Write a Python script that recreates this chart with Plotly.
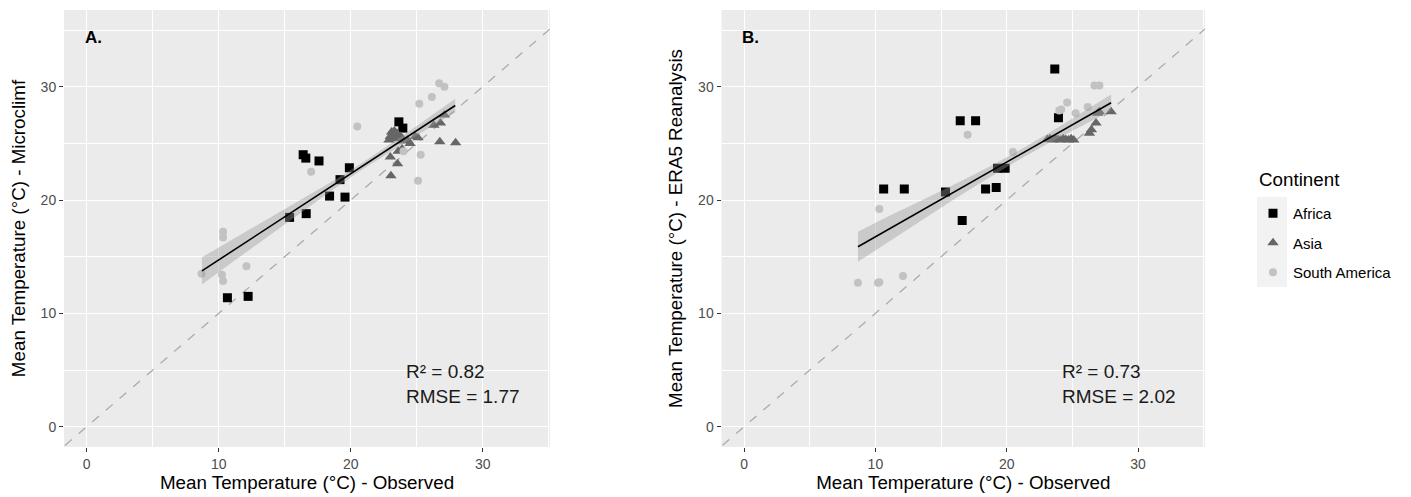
import plotly.graph_objects as go

# ---------------- data ----------------
continents = ["Africa", "Asia", "South America"]

# Panel A: Observed vs Microclimf
A_africa_obs  = [10.66, 12.23, 15.37, 16.4, 16.6, 16.63, 17.6, 18.4, 19.19, 19.57, 19.9, 23.65, 23.95]
A_africa_pred = [11.38, 11.5, 18.47, 24.0, 23.7, 18.8, 23.45, 20.35, 21.8, 20.26, 22.85, 26.9, 26.35]

A_asia_obs  = [22.9, 23.0, 23.1, 23.25, 23.3, 23.45, 23.5, 23.6, 23.8, 24.0, 24.3, 24.5, 24.9, 25.1,
               23.0, 23.6, 23.9, 23.55, 23.05, 26.3, 26.8, 27.1, 26.75, 27.95]
A_asia_pred = [25.3, 25.6, 26.0, 25.5, 26.1, 25.7, 25.9, 25.4, 25.6, 25.2, 25.3, 25.0, 25.6, 25.5,
               23.8, 24.3, 24.5, 23.2, 22.15, 26.6, 26.8, 27.5, 25.15, 25.06]

A_sam_obs  = [8.7, 10.25, 10.33, 10.33, 10.33, 12.1, 17.0, 20.5, 24.0, 25.1, 25.3, 25.2, 26.15, 26.7, 27.1]
A_sam_pred = [13.5, 13.4, 12.85, 16.7, 17.2, 14.15, 22.5, 26.5, 24.3, 21.7, 24.0, 28.5, 29.1, 30.3, 30.0]

A_fit_x  = [8.73, 11, 13, 15, 17, 19, 21, 23, 25, 27.92]
A_fit_y  = [13.75, 15.48, 17.0, 18.52, 20.04, 21.56, 23.08, 24.6, 26.12, 28.34]
A_band_lo = [12.55, 14.48, 16.17, 17.87, 19.54, 21.19, 22.78, 24.27, 25.70, 27.74]
A_band_hi = [14.95, 16.48, 17.83, 19.17, 20.54, 21.93, 23.38, 24.93, 26.54, 28.94]
A_stats = "R² = 0.82<br>RMSE = 1.77"

# Panel B: Observed vs ERA5 Reanalysis
B_africa_obs  = [10.63, 12.2, 15.34, 16.46, 16.61, 17.63, 18.39, 19.2, 19.3, 19.88, 23.66, 23.94]
B_africa_pred = [20.97, 20.97, 20.7, 27.0, 18.2, 27.0, 20.97, 21.1, 22.8, 22.8, 31.56, 27.26]

B_asia_obs  = [23.1, 23.3, 23.5, 23.7, 23.9, 24.1, 24.3, 24.5, 24.7, 24.9, 25.1,
               26.3, 26.45, 26.8, 26.93, 27.05, 27.95]
B_asia_pred = [25.35, 25.4, 25.3, 25.4, 25.35, 25.3, 25.4, 25.35, 25.3, 25.4, 25.3,
               25.9, 26.2, 26.8, 27.65, 27.8, 27.8]

B_sam_obs  = [8.67, 10.2, 10.3, 10.3, 12.1, 17.02, 20.47, 24.0, 24.15, 24.6, 25.25, 26.17, 26.68, 27.06]
B_sam_pred = [12.7, 12.7, 12.75, 19.2, 13.3, 25.76, 24.25, 27.9, 28.0, 28.6, 27.65, 28.2, 30.1, 30.1]

B_fit_x  = [8.67, 11, 13, 15, 17, 19, 21, 23, 25, 27.95]
B_fit_y  = [15.88, 17.42, 18.74, 20.06, 21.37, 22.69, 24.01, 25.33, 26.65, 28.59]
B_band_lo = [14.55, 16.27, 17.81, 19.33, 20.80, 22.24, 23.61, 24.90, 26.13, 27.87]
B_band_hi = [17.2, 18.57, 19.67, 20.79, 21.94, 23.14, 24.41, 25.76, 27.17, 29.31]
B_stats = "R² = 0.73<br>RMSE = 2.02"

tick_vals = [0, 10, 20, 30]
tick_text = ["0", "10", "20", "30"]
diag_slope, diag_intercept = 1.0, 0.0
x_range = [-1.72, 35.1]
y_range = [-1.79, 36.77]

# ---------------- styling ----------------
FONT = "Liberation Sans, Arial, sans-serif"
styles = {
    "Africa": dict(symbol="square", color="#000000", size=9),
    "Asia": dict(symbol="triangle-up", color="#666666", size=10),
    "South America": dict(symbol="circle", color="#C2C2C2", size=8),
}

fig = go.Figure()

panels = [
    ("x", "y", [A_africa_obs, A_asia_obs, A_sam_obs], [A_africa_pred, A_asia_pred, A_sam_pred],
     A_fit_x, A_fit_y, A_band_lo, A_band_hi, True),
    ("x2", "y2", [B_africa_obs, B_asia_obs, B_sam_obs], [B_africa_pred, B_asia_pred, B_sam_pred],
     B_fit_x, B_fit_y, B_band_lo, B_band_hi, False),
]

for xa, ya, obs_list, pred_list, fx, fy, lo, hi, show in panels:
    # 1:1 dashed reference line across the whole axis range
    dx = [x_range[0] - 2, x_range[1] + 2]
    fig.add_trace(go.Scatter(
        x=dx, y=[diag_intercept + diag_slope * v for v in dx], mode="lines",
        line=dict(color="#ABABAB", width=1.3, dash="dash"),
        xaxis=xa, yaxis=ya, showlegend=False, hoverinfo="skip"))
    for name, ox, oy in zip(continents, obs_list, pred_list):
        st = styles[name]
        fig.add_trace(go.Scatter(
            x=ox, y=oy, mode="markers", name=name, legendgroup=name,
            marker=dict(symbol=st["symbol"], color=st["color"], size=st["size"], line=dict(width=0)),
            xaxis=xa, yaxis=ya, showlegend=show))
    # confidence ribbon (drawn over points, like geom_smooth)
    fig.add_trace(go.Scatter(
        x=fx + fx[::-1], y=hi + lo[::-1], mode="lines", fill="toself",
        fillcolor="rgba(153,153,153,0.4)", line=dict(width=0),
        xaxis=xa, yaxis=ya, showlegend=False, hoverinfo="skip"))
    fig.add_trace(go.Scatter(
        x=fx, y=fy, mode="lines", line=dict(color="#000000", width=1.6),
        xaxis=xa, yaxis=ya, showlegend=False, hoverinfo="skip"))

# ---------------- layout ----------------
L, R, T, B = 64, 206, 10, 50
W, H = 1411, 497
pw = W - L - R
ph = H - T - B

def px_x(px):
    return (px - L) / pw

def px_y(py):
    return (H - B - py) / ph

axis_common = dict(
    range=x_range, tickvals=tick_vals, ticktext=tick_text,
    showgrid=True, gridcolor="#FFFFFF", gridwidth=1.3,
    zeroline=False, showline=False,
    ticks="outside", ticklen=4, tickwidth=1, tickcolor="#333333",
    tickfont=dict(family=FONT, size=14, color="#4D4D4D"),
    minor=dict(dtick=5, tick0=0, showgrid=True, gridcolor="#FFFFFF", gridwidth=0.6, ticks=""),
)

xt = dict(text="Mean Temperature (°C) - Observed", font=dict(family=FONT, size=18.8, color="#000000"), standoff=4)

fig.update_layout(
    width=W, height=H,
    margin=dict(l=L, r=R, t=T, b=B, autoexpand=False),
    paper_bgcolor="#FFFFFF", plot_bgcolor="#EBEBEB",
    font=dict(family=FONT),
    xaxis=dict(axis_common, domain=[0, px_x(550)], anchor="y", title=xt),
    yaxis=dict(axis_common, range=y_range, domain=[0, 1], anchor="x",
               title=dict(text="Mean Temperature (°C) - Microclimf",
                          font=dict(family=FONT, size=18.8, color="#000000"), standoff=10)),
    xaxis2=dict(axis_common, domain=[px_x(721.5), 1], anchor="y2", title=xt),
    yaxis2=dict(axis_common, range=y_range, domain=[0, 1], anchor="x2",
                title=dict(text="Mean Temperature (°C) - ERA5 Reanalysis",
                           font=dict(family=FONT, size=18.8, color="#000000"), standoff=10)),
    legend=dict(
        font=dict(family=FONT, size=15, color="#000000"),
        x=px_x(1253), xanchor="left", y=px_y(197), yanchor="top",
        bgcolor="rgba(0,0,0,0)", tracegroupgap=7,
    ),
    showlegend=True,
)

# legend title
fig.add_annotation(x=px_x(1257), y=px_y(179), xref="paper", yref="paper", text="Continent",
                   showarrow=False, xanchor="left", yanchor="middle",
                   font=dict(family=FONT, size=18.8, color="#000000"))

# legend key background
fig.add_shape(type="rect", xref="paper", yref="paper",
              x0=px_x(1257), x1=px_x(1287), y0=px_y(287), y1=px_y(197),
              fillcolor="#F2F2F2", line=dict(width=0), layer="below")

# panel labels and statistics
for xa, ya, lab, stats in [("x", "y", "A.", A_stats), ("x2", "y2", "B.", B_stats)]:
    fig.add_annotation(x=-0.3, y=34.35, xref=xa, yref=ya, text="<b>%s</b>" % lab,
                       showarrow=False, xanchor="left", yanchor="middle",
                       font=dict(family=FONT, size=17, color="#000000"))
    fig.add_annotation(x=24.07, y=3.77, xref=xa, yref=ya, text=stats, align="left",
                       showarrow=False, xanchor="left", yanchor="middle",
                       font=dict(family=FONT, size=19, color="#1A1A1A"))

fig.write_html("out.html", config={"displayModeBar": False},
               post_script="document.body.style.margin='0px';")
